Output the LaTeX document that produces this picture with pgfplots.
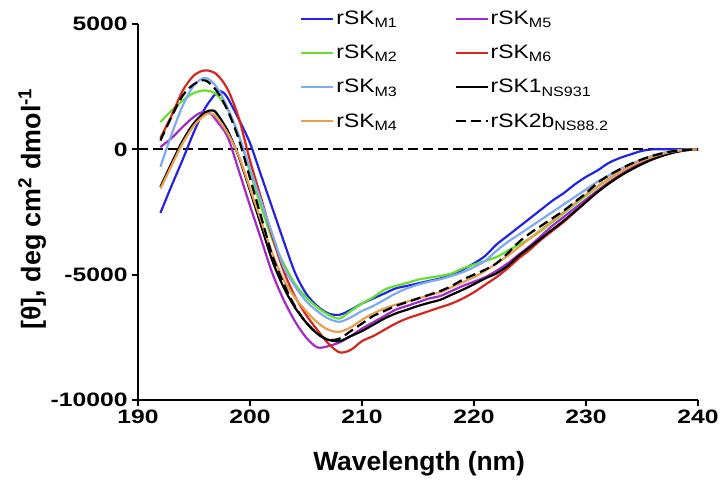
\documentclass[border=0pt]{standalone}
\usepackage{fontspec}
\setmainfont{Liberation Sans}
\usepackage{graphicx}
\usepackage{pgfplots}
\pgfplotsset{compat=1.18}
\definecolor{cM1}{RGB}{35,35,230}
\definecolor{cM2}{RGB}{100,225,45}
\definecolor{cM3}{RGB}{125,170,240}
\definecolor{cM4}{RGB}{230,160,80}
\definecolor{cM5}{RGB}{165,40,200}
\definecolor{cM6}{RGB}{210,40,30}
\newcommand\LG[2]{\scalebox{1.18}[1]{rSK#1\textsubscript{#2}}}
\begin{document}
\begin{tikzpicture}
\path[use as bounding box] (-138bp,-93bp) rectangle (585bp,400bp);
\begin{axis}[
  scale only axis, width=560bp, height=376bp,
  xmin=190, xmax=240, ymin=-10000, ymax=5000,
  axis lines=left, axis line style={-, line width=2bp},
  xtick={190,200,...,240}, ytick={-10000,-5000,0,5000},
  tick align=outside, major tick length=6bp, tick style={line width=2bp, black},
  scaled y ticks=false,
  /pgf/number format/assume math mode=true,
  /pgf/number format/1000 sep={},
  tick label style={font=\fontsize{19.5}{22}\selectfont\bfseries, xscale=1.27},
  xlabel={\bfseries Wavelength (nm)},
  ylabel={\bfseries [θ], deg cm\textsuperscript{2} dmol\textsuperscript{-1}},
  every axis x label/.style={at={(axis description cs:0.502,-0.170)}, anchor=center, font=\fontsize{26.5}{30}\selectfont},
  every axis y label/.style={at={(axis description cs:-0.189,0.508)}, anchor=center, rotate=90, font=\fontsize{27}{30}\selectfont},
  legend columns=2,
  legend cell align=left,
  legend style={at={(rel axis cs:0.284,1.045)}, anchor=north west, draw=none, fill=none,
    font=\fontsize{19.5}{22}\selectfont, row sep=15bp,
    /tikz/every even column/.append style={column sep=55bp}},
  legend image code/.code={\path (0bp,0bp) -- (32bp,0bp); \draw[#1] (0bp,0bp) -- (27bp,0bp);},
  every axis plot/.append style={line width=2.2bp},
]
\addplot[forget plot, black, line width=2bp, dash pattern=on 10bp off 5bp] coordinates {(190,0) (240,0)};
% rSK M1
\addplot[cM1, smooth] coordinates {
(192,-2540) (193,-1450) (194,-400) (195,700) (196,1650) (197,2250) (197.5,2300) (198,2050) (199,1200) (200,250)
(201,-1050) (202,-2350) (203,-3650) (204,-4900) (205,-5750) (206,-6250) (207,-6550) (208,-6600) (209,-6400) (210,-6150)
(211,-5950) (212,-5750) (213,-5550) (214,-5450) (215,-5350) (216,-5250) (217,-5150) (218,-5000) (219,-4800) (220,-4550)
(221,-4250) (222,-3800) (223,-3450) (224,-3100) (225,-2750) (226,-2400) (227,-2050) (228,-1750) (229,-1400) (230,-1100)
(231,-850) (232,-550) (233,-350) (234,-200) (235,-60) (236,0) (237,0) (238,0) (239,0) (240,0)};
\addlegendentry{\LG{}{M1}}
% rSK M5
\addplot[cM5, smooth] coordinates {
(192,90) (193,450) (194,900) (195,1300) (195.8,1490) (196.5,1420) (197,1150) (198,500) (199,-850) (200,-2250)
(201,-3600) (202,-4950) (203,-6000) (204,-6850) (205,-7500) (206,-7900) (207,-7850) (208,-7700) (209,-7450) (210,-7150)
(211,-6900) (212,-6650) (213,-6400) (214,-6250) (215,-6100) (216,-5950) (217,-5850) (218,-5650) (219,-5450) (220,-5280)
(221,-5100) (222,-4850) (223,-4550) (224,-4200) (225,-3850) (226,-3450) (227,-3050) (228,-2700) (229,-2350) (230,-2000)
(231,-1650) (232,-1330) (233,-1030) (234,-760) (235,-520) (236,-340) (237,-190) (238,-90) (239,-30) (240,0)};
\addlegendentry{\LG{}{M5}}
% rSK M2
\addplot[cM2, smooth] coordinates {
(192,1090) (193,1550) (194,1950) (195,2250) (196,2350) (197,2200) (198,1600) (199,550) (200,-900) (201,-2300)
(202,-3600) (203,-4550) (204,-5350) (205,-5900) (206,-6300) (207,-6600) (208,-6750) (209,-6450) (210,-6150) (211,-5900)
(212,-5600) (213,-5450) (214,-5330) (215,-5200) (216,-5120) (217,-5050) (218,-4950) (219,-4750) (220,-4600) (221,-4450)
(222,-4300) (223,-4050) (224,-3800) (225,-3550) (226,-3250) (227,-2900) (228,-2550) (229,-2200) (230,-1850) (231,-1500)
(232,-1200) (233,-900) (234,-650) (235,-450) (236,-280) (237,-150) (238,-70) (239,-20) (240,0)};
\addlegendentry{\LG{}{M2}}
% rSK M6
\addplot[cM6, smooth] coordinates {
(192,450) (193,1350) (194,2350) (195,2950) (196,3150) (197,3000) (198,2400) (199,1250) (200,-450) (201,-1950)
(202,-3500) (203,-4850) (204,-5850) (205,-6600) (206,-7200) (207,-7750) (208,-8100) (209,-8000) (210,-7650) (211,-7450)
(212,-7200) (213,-6950) (214,-6750) (215,-6600) (216,-6450) (217,-6300) (218,-6150) (219,-5950) (220,-5700) (221,-5400)
(222,-5100) (223,-4750) (224,-4350) (225,-4000) (226,-3600) (227,-3250) (228,-2900) (229,-2500) (230,-2100) (231,-1700)
(232,-1350) (233,-1050) (234,-800) (235,-580) (236,-380) (237,-230) (238,-110) (239,-30) (240,0)};
\addlegendentry{\LG{}{M6}}
% rSK M3
\addplot[cM3, smooth] coordinates {
(192,-700) (193,600) (194,1750) (195,2550) (196,2850) (197,2500) (198,1650) (199,550) (200,-780) (201,-2080)
(202,-3380) (203,-4680) (204,-5450) (205,-6050) (206,-6450) (207,-6750) (208,-6880) (209,-6700) (210,-6450) (211,-6250)
(212,-6000) (213,-5750) (214,-5550) (215,-5400) (216,-5280) (217,-5180) (218,-5050) (219,-4900) (220,-4700) (221,-4450)
(222,-4050) (223,-3700) (224,-3400) (225,-3100) (226,-2800) (227,-2500) (228,-2200) (229,-1900) (230,-1600) (231,-1300)
(232,-1050) (233,-800) (234,-600) (235,-400) (236,-250) (237,-130) (238,-50) (239,-10) (240,0)};
\addlegendentry{\LG{}{M3}}
% rSK1 NS931
\addplot[black, smooth] coordinates {
(192,-1500) (193,-550) (194,350) (195,1050) (196,1480) (196.6,1550) (197,1450) (198,750) (199,-300) (200,-1650)
(201,-3050) (202,-4450) (203,-5500) (204,-6300) (205,-6900) (206,-7350) (207,-7600) (208,-7650) (209,-7450) (210,-7250)
(211,-7000) (212,-6750) (213,-6550) (214,-6400) (215,-6250) (216,-6120) (217,-6000) (218,-5800) (219,-5600) (220,-5380)
(221,-5150) (222,-4950) (223,-4650) (224,-4250) (225,-3900) (226,-3550) (227,-3200) (228,-2850) (229,-2480) (230,-2100)
(231,-1720) (232,-1380) (233,-1080) (234,-820) (235,-590) (236,-390) (237,-230) (238,-110) (239,-30) (240,0)};
\addlegendentry{\LG{1}{NS931}}
% rSK M4
\addplot[cM4, smooth] coordinates {
(192,-1570) (193,-650) (194,250) (195,950) (196,1380) (196.5,1420) (197,1300) (198,650) (199,-260) (200,-1560)
(201,-2860) (202,-4160) (203,-5200) (204,-5900) (205,-6450) (206,-6900) (207,-7200) (208,-7280) (209,-7100) (210,-6800)
(211,-6550) (212,-6350) (213,-6200) (214,-6080) (215,-5950) (216,-5820) (217,-5700) (218,-5500) (219,-5300) (220,-5100)
(221,-4850) (222,-4550) (223,-4250) (224,-3900) (225,-3550) (226,-3200) (227,-2850) (228,-2500) (229,-2150) (230,-1800)
(231,-1480) (232,-1180) (233,-900) (234,-650) (235,-450) (236,-290) (237,-160) (238,-70) (239,-20) (240,0)};
\addlegendentry{\LG{}{M4}}
% rSK2b NS88.2
\addplot[black, smooth, dash pattern=on 10bp off 5bp] coordinates {
(192,350) (193,1300) (194,2150) (195,2600) (196,2750) (197,2350) (198,1550) (199,400) (200,-1150) (201,-2700)
(202,-4250) (203,-5350) (204,-6250) (205,-6900) (206,-7350) (207,-7600) (208,-7550) (209,-7250) (210,-6950) (211,-6650)
(212,-6450) (213,-6250) (214,-6100) (215,-5950) (216,-5800) (217,-5650) (218,-5450) (219,-5200) (220,-5000) (221,-4800)
(222,-4550) (223,-4150) (224,-3700) (225,-3350) (226,-3050) (227,-2750) (228,-2450) (229,-2100) (230,-1750) (231,-1350)
(232,-1050) (233,-800) (234,-580) (235,-400) (236,-250) (237,-140) (238,-60) (239,-20) (240,0)};
\addlegendentry{\LG{2b}{NS88.2}}
\end{axis}
\end{tikzpicture}
\end{document}
